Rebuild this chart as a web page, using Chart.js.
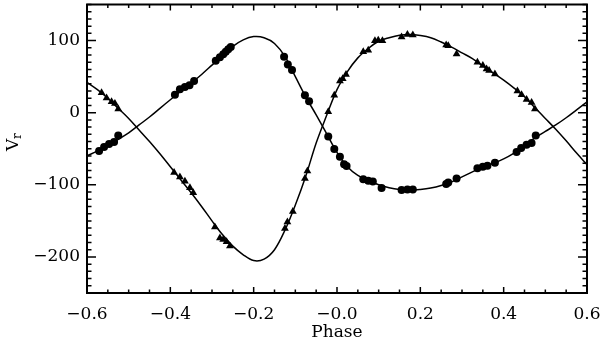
<!DOCTYPE html>
<html>
<head>
<meta charset="utf-8">
<script src="https://cdn.jsdelivr.net/npm/chart.js@4.4.0/dist/chart.umd.min.js"></script>
<style>
html, body { margin: 0; padding: 0; background: #fff; }
#wrap { width: 602px; height: 343px; }
</style>
</head>
<body>
<div id="wrap"><canvas id="rv"></canvas></div>
<script>
// fitted orbit curves, every 0.025 in phase
const modelPhase = [-0.600, -0.575, -0.550, -0.525, -0.500, -0.475, -0.450, -0.425, -0.400, -0.375,
    -0.350, -0.325, -0.300, -0.275, -0.250, -0.225, -0.200, -0.175, -0.150, -0.125,
    -0.100, -0.075, -0.050, -0.025, 0.000, 0.025, 0.050, 0.075, 0.100, 0.125,
    0.150, 0.175, 0.200, 0.225, 0.250, 0.275, 0.300, 0.325, 0.350, 0.375,
    0.400, 0.425, 0.450, 0.475, 0.500, 0.525, 0.550, 0.575, 0.600];
const primaryModel = [-60, -53, -45, -37, -28, -17, -6, 6, 18, 30,
    41, 53, 66, 79, 92, 101, 105.5, 104, 96, 78,
    50, 22, -3, -29, -55, -75, -87, -94, -100, -104,
    -106.5, -107.5, -106.5, -104.5, -101, -96, -89, -82, -75, -70,
    -64, -56, -46, -35, -26, -17, -7, 4, 15];
const secondaryModel = [42, 32, 20, 6, -8, -24, -40, -57, -75, -93,
    -111, -130, -150, -169, -185, -197, -205, -203, -190, -163,
    -128, -88, -42, -4, 32, 57, 76, 89, 99, 104,
    107.5, 108.5, 107, 104, 98, 91, 83, 75, 65, 55,
    45, 34, 22, 7, -8, -23, -39, -56, -72];

// measured velocities (circles = primary, triangles = secondary)
const primaryPhase = [-0.571, -0.559, -0.547, -0.535, -0.525, -0.389, -0.377, -0.365, -0.354, -0.343,
    -0.291, -0.281, -0.273, -0.267, -0.261, -0.255, -0.127, -0.118, -0.108, -0.077,
    -0.067, -0.021, -0.0065, 0.007, 0.017, 0.023, 0.063, 0.075, 0.086, 0.107,
    0.155, 0.169, 0.182, 0.262, 0.267, 0.287, 0.337, 0.350, 0.361, 0.379,
    0.431, 0.442, 0.455, 0.467, 0.477];
const primaryVel = [-53, -47.5, -43.4, -40.7, -31.5, 25, 32.5, 35.6, 38, 44,
    72, 76.7, 81, 84.5, 88, 91, 77.7, 66.7, 59.3, 24.2,
    16, -32.9, -50.3, -61.2, -71.6, -74, -92.2, -94.5, -95.5, -104.5,
    -107.3, -106.5, -106.5, -99, -96.8, -91.4, -77, -75, -73.5, -69.4,
    -54.4, -48.9, -44.3, -42, -31.5];
const secondaryPhase = [-0.565, -0.553, -0.541, -0.533, -0.525, -0.391, -0.377, -0.365, -0.353, -0.345,
    -0.293, -0.281, -0.273, -0.265, -0.257, -0.125, -0.119, -0.106, -0.077, -0.071,
    -0.021, -0.0065, 0.007, 0.0137, 0.0216, 0.063, 0.075, 0.091, 0.099, 0.109,
    0.155, 0.169, 0.182, 0.262, 0.267, 0.287, 0.337, 0.350, 0.359, 0.365,
    0.379, 0.433, 0.443, 0.455, 0.467, 0.475];
const secondaryVel = [27.8, 20.5, 15, 12.7, 5, -83, -89, -95, -104, -111,
    -158.5, -173.6, -175.8, -179, -185, -160.7, -151.6, -137, -91.4, -80.8,
    1.4, 24.2, 43.8, 47, 53, 84.5, 86.7, 99.6, 100.4, 99.6,
    104.9, 108.4, 107.8, 94, 92.7, 81.2, 69.9, 65.3, 60.7, 58.5,
    53.8, 30.1, 25, 18.2, 14, 5.1];

const xTickValues = [-0.6, -0.4, -0.2, 0, 0.2, 0.4, 0.6];
const xTickLabels = ['\u22120.6', '\u22120.4', '\u22120.2', '\u22120.0', '0.2', '0.4', '0.6'];
const yTickValues = [-200, -100, 0, 100];
const yTickLabels = ['\u2212200', '\u2212100', '0', '100'];

const serif = 'DejaVu Serif';

function pairs(xs, ys) {
    return xs.map((x, i) => ({ x: x, y: ys[i] }));
}

// IDL style box: frame plus inward ticks on all four sides
const frameTicks = {
    id: 'frameTicks',
    afterDraw(chart) {
        const { ctx, chartArea: a, scales } = chart;
        const x = scales.x, y = scales.y;
        ctx.save();
        ctx.strokeStyle = '#000';
        ctx.lineWidth = 1.5;
        ctx.beginPath();
        for (let i = 0; i <= 24; i++) {
            const v = -0.6 + i * 0.05;
            const px = x.getPixelForValue(v);
            const len = i % 4 === 0 ? 6 : 3.5;
            ctx.moveTo(px, a.bottom); ctx.lineTo(px, a.bottom - len);
            ctx.moveTo(px, a.top); ctx.lineTo(px, a.top + len);
        }
        for (let i = 0; i <= 40; i++) {
            const v = -250 + i * 10;
            const py = y.getPixelForValue(v);
            const len = v % 100 === 0 ? 9 : 4.5;
            ctx.moveTo(a.left, py); ctx.lineTo(a.left + len, py);
            ctx.moveTo(a.right, py); ctx.lineTo(a.right - len, py);
        }
        ctx.stroke();
        ctx.lineWidth = 2;
        ctx.strokeRect(a.left, a.top, a.right - a.left, a.bottom - a.top);

        ctx.fillStyle = '#000';
        ctx.font = '17px "' + serif + '"';
        ctx.textAlign = 'center';
        ctx.textBaseline = 'middle';
        ctx.fillText('Phase', (a.left + a.right) / 2, 333);

        ctx.translate(18, 145);
        ctx.rotate(-Math.PI / 2);
        ctx.textAlign = 'left';
        ctx.textBaseline = 'alphabetic';
        ctx.fillText('V', -6, 0);
        ctx.font = '12px "' + serif + '"';
        ctx.fillText('r', 6, 3);
        ctx.restore();
    }
};

new Chart(document.getElementById('rv'), {
    type: 'scatter',
    data: {
        datasets: [
            { data: pairs(primaryPhase, primaryVel), pointStyle: 'circle', pointRadius: 4,
              backgroundColor: '#000', borderColor: '#000', borderWidth: 0 },
            { data: pairs(secondaryPhase, secondaryVel), pointStyle: 'triangle', pointRadius: 4.5,
              backgroundColor: '#000', borderColor: '#000', borderWidth: 0 },
            { data: pairs(modelPhase, primaryModel), showLine: true, pointRadius: 0,
              borderColor: '#000', borderWidth: 1.5, tension: 0.35 },
            { data: pairs(modelPhase, secondaryModel), showLine: true, pointRadius: 0,
              borderColor: '#000', borderWidth: 1.5, tension: 0.35 }
        ]
    },
    options: {
        responsive: true,
        maintainAspectRatio: false,
        animation: false,
        layout: { padding: { top: 1, right: 15, left: 0, bottom: 0 } },
        plugins: { legend: { display: false }, tooltip: { enabled: false } },
        scales: {
            x: {
                type: 'linear', min: -0.6, max: 0.6,
                grid: { display: false, drawTicks: false },
                border: { display: false },
                afterBuildTicks: s => { s.ticks = xTickValues.map(v => ({ value: v })); },
                afterFit: s => { s.height = 50; s.paddingLeft = 0; s.paddingRight = 0; },
                ticks: {
                    padding: 11, color: '#000', maxRotation: 0,
                    font: { family: serif, size: 17 },
                    callback: (v, i) => xTickLabels[i]
                }
            },
            y: {
                type: 'linear', min: -250, max: 150,
                grid: { display: false, drawTicks: false },
                border: { display: false },
                afterBuildTicks: s => { s.ticks = yTickValues.map(v => ({ value: v })); },
                afterFit: s => { s.width = 87; s.paddingTop = 0; s.paddingBottom = 0; },
                ticks: {
                    padding: 7, color: '#000',
                    font: { family: serif, size: 17 },
                    callback: (v, i) => yTickLabels[i]
                }
            }
        }
    },
    plugins: [frameTicks]
});
</script>
</body>
</html>
